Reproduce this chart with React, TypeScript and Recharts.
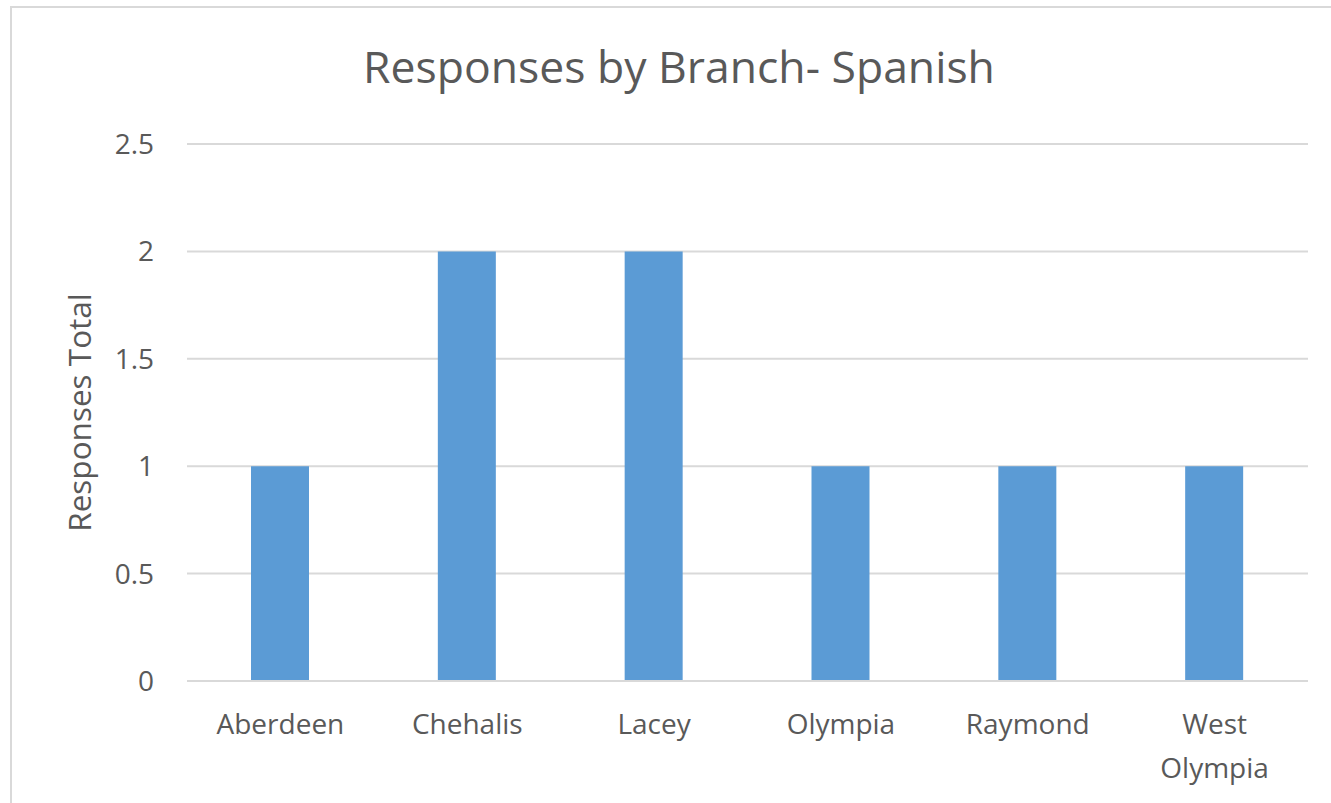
import React from 'react'
import { BarChart, Bar, XAxis, YAxis, CartesianGrid } from 'recharts'

const branches = ['Aberdeen', 'Chehalis', 'Lacey', 'Olympia', 'Raymond', 'West Olympia']
const responses = [1, 2, 2, 1, 1, 1]
const yTicks = [0, 0.5, 1, 1.5, 2, 2.5]

const data = branches.map((branch, i) => ({ branch, total: responses[i] }))

const FONT = '"Open Sans", sans-serif'
const TEXT = '#595959'
const GRID = '#D9D9D9'

// category labels wrap one word per line, like "West / Olympia"
const BranchTick = ({ x, y, payload }: { x?: number; y?: number; payload?: { value: string } }) => {
  const words = String(payload?.value ?? '').split(' ')
  return (
    <text x={x} y={y} textAnchor="middle" fill={TEXT} fontFamily={FONT} fontSize={28}>
      {words.map((w, i) => (
        <tspan key={i} x={x} dy={i === 0 ? 45 : 44}>{w}</tspan>
      ))}
    </text>
  )
}

export default function App() {
  return (
    <div style={{ position: 'fixed', left: 0, top: 0, width: 1331, height: 803, overflow: 'hidden', background: '#fff' }}>
      <div style={{
        position: 'absolute', left: 10, top: 6, width: 1340, height: 820,
        border: '2px solid #D9D9D9', boxSizing: 'border-box',
      }} />
      <div style={{
        position: 'absolute', left: 0, width: 1358, top: 36, textAlign: 'center',
        fontFamily: FONT, fontSize: 44.5, color: TEXT, lineHeight: '60px',
      }}>
        Responses by Branch- Spanish
      </div>
      <div style={{ position: 'absolute', left: 0, top: 0 }}>
        <BarChart width={1331} height={803} data={data} margin={{ top: 144, right: 23, bottom: 22, left: 67 }}>
          <CartesianGrid vertical={false} stroke={GRID} strokeWidth={2} />
          <XAxis
            dataKey="branch"
            height={100}
            interval={0}
            axisLine={{ stroke: GRID, strokeWidth: 2 }}
            tickLine={false}
            tick={<BranchTick />}
          />
          <YAxis
            width={120}
            domain={[0, 2.5]}
            ticks={yTicks}
            axisLine={false}
            tickLine={false}
            tickMargin={27}
            tick={{ fill: TEXT, fontFamily: FONT, fontSize: 28 }}
            label={{
              value: 'Responses Total', angle: -90, position: 'insideLeft', offset: 13,
              style: { fill: TEXT, fontFamily: FONT, fontSize: 31.5, textAnchor: 'middle' },
            }}
          />
          <Bar dataKey="total" fill="#5B9BD5" barSize={58} isAnimationActive={false} />
        </BarChart>
      </div>
    </div>
  )
}
